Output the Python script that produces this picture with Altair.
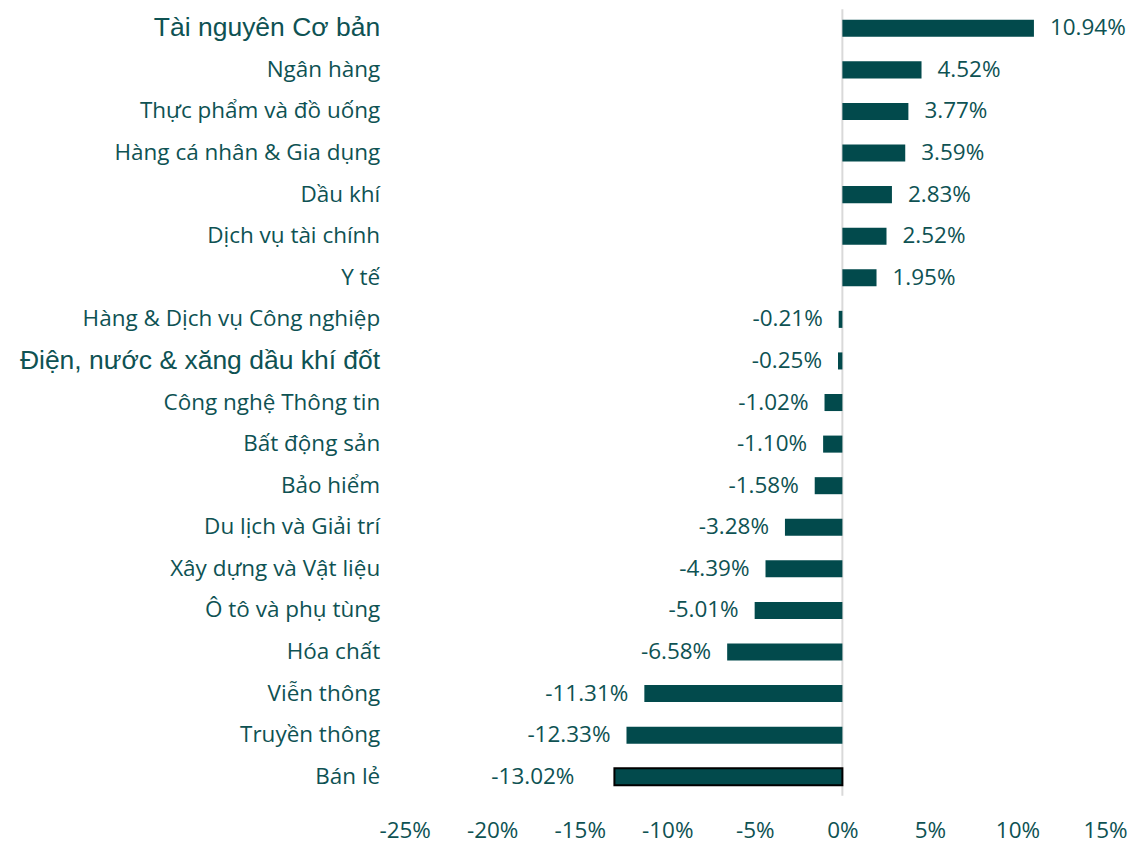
import altair as alt
import pandas as pd

categories = [
    "Tài nguyên Cơ bản", "Ngân hàng", "Thực phẩm và đồ uống", "Hàng cá nhân & Gia dụng",
    "Dầu khí", "Dịch vụ tài chính", "Y tế", "Hàng & Dịch vụ Công nghiệp",
    "Điện, nước & xăng dầu khí đốt", "Công nghệ Thông tin", "Bất động sản", "Bảo hiểm",
    "Du lịch và Giải trí", "Xây dựng và Vật liệu", "Ô tô và phụ tùng", "Hóa chất",
    "Viễn thông", "Truyền thông", "Bán lẻ",
]
values = [10.94, 4.52, 3.77, 3.59, 2.83, 2.52, 1.95, -0.21, -0.25, -1.02, -1.10,
          -1.58, -3.28, -4.39, -5.01, -6.58, -11.31, -12.33, -13.02]
tick_values = [-25, -20, -15, -10, -5, 0, 5, 10, 15]
outlined = ["Bán lẻ"]
arial_labels = ["Tài nguyên Cơ bản", "Điện, nước & xăng dầu khí đốt"]

df = pd.DataFrame({"cat": categories, "v": values})
df["outlined"] = df["cat"].isin(outlined)

BAR = "#024a4c"
TXT = "#0e5253"
FONT = "Open Sans"
FS = 22.5

x_scale = alt.Scale(domain=[-25, 15], nice=False, zero=False)
y_scale = alt.Scale(domain=categories, paddingInner=0.59, paddingOuter=0.25)

arial_test = "indexof(" + str(arial_labels).replace('"', "'") + ", datum.value) >= 0"

base = alt.Chart(df)

bars = base.mark_bar().encode(
    x=alt.X("v:Q", scale=x_scale,
            axis=alt.Axis(values=tick_values, labelExpr="datum.value + '%'",
                          domain=False, ticks=False, grid=False, title=None,
                          labelFont=FONT, labelFontSize=FS, labelColor=TXT,
                          labelPadding=24, labelFlush=False)),
    x2=alt.datum(0),
    y=alt.Y("cat:N", sort=categories, scale=y_scale,
            axis=alt.Axis(domain=False, ticks=False, grid=False, title=None,
                          labelFont={"condition": {"test": arial_test, "value": "Liberation Sans"}, "value": FONT},
                          labelFontSize={"condition": {"test": arial_test, "value": 26.5}, "value": FS},
                          labelColor=TXT, labelPadding=25, labelLimit=600)),
    color=alt.value(BAR),
    stroke=alt.condition("datum.outlined", alt.value("#000000"), alt.value(BAR)),
    strokeWidth=alt.condition("datum.outlined", alt.value(2), alt.value(0)),
)

zero = alt.Chart(pd.DataFrame({"z": [0]})).mark_rule(color="#d9d9d9", strokeWidth=2).encode(
    x=alt.X("z:Q", scale=x_scale)
)

lab = base.transform_calculate(
    label="replace(format(datum.v, '.2f'), '\u2212', '-') + '%'"
)
pos_text = lab.transform_filter("datum.v >= 0").mark_text(
    align="left", dx=16, font=FONT, fontSize=FS, color=TXT, baseline="middle"
).encode(x="v:Q", y=alt.Y("cat:N", sort=categories), text="label:N")
neg_text = lab.transform_filter("datum.v < 0 && !datum.outlined").mark_text(
    align="right", dx=-16, font=FONT, fontSize=FS, color=TXT, baseline="middle"
).encode(x="v:Q", y=alt.Y("cat:N", sort=categories), text="label:N")
out_text = lab.transform_filter("datum.outlined").mark_text(
    align="right", dx=-40, font=FONT, fontSize=FS, color=TXT, baseline="middle"
).encode(x="v:Q", y=alt.Y("cat:N", sort=categories), text="label:N")

chart = alt.layer(zero, bars, pos_text, neg_text, out_text).properties(
    width=701, height=787, background="white",
    padding={"left": 11, "top": 0, "right": 0, "bottom": 6},
).configure_view(strokeWidth=0)

chart.save("out.html", embed_options={"renderer": "svg", "actions": False})
